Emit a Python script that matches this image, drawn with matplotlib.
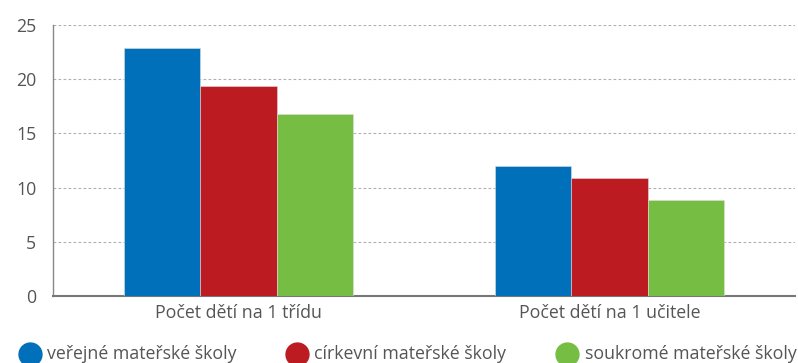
import matplotlib
matplotlib.use("Agg")
import numpy as np
import matplotlib.pyplot as plt
from matplotlib.lines import Line2D

plt.rcParams['font.family'] = ['Open Sans', 'DejaVu Sans']

# data
categories = ["Počet dětí na 1 třídu", "Počet dětí na 1 učitele"]
series = ["veřejné mateřské školy", "církevní mateřské školy", "soukromé mateřské školy"]
verejne = [22.9, 12.0]
cirkevni = [19.4, 10.9]
soukrome = [16.8, 8.9]
values = [verejne, cirkevni, soukrome]
colors = ["#0070ba", "#bc1b21", "#76be43"]
yticks = [0, 5, 10, 15, 20, 25]

W, H = 798, 363
fig = plt.figure(figsize=(W / 100, H / 100), dpi=100)
ax = fig.add_axes([0.0664, 0.1846, 0.9296, 0.7464])

x = np.arange(len(categories))
w = 0.206
for i, (vals, c) in enumerate(zip(values, colors)):
    ax.bar(x + (i - 1) * w, vals, w, color=c, edgecolor="#dddddd",
           linewidth=0.4, zorder=3, label=series[i])

ax.set_xlim(-0.5, 1.5)
ax.set_ylim(0, 25)
ax.set_yticks(yticks)
ax.set_xticks(x)
ax.set_xticklabels(categories)
ax.yaxis.grid(True, linestyle=(0, (2.5, 2)), color="#b0b0b0", linewidth=0.8, zorder=0)
ax.tick_params(length=0, labelsize=12.8, colors="#555555")
ax.tick_params(axis="x", pad=6)
ax.tick_params(axis="y", pad=12)
for s in ["top", "right"]:
    ax.spines[s].set_visible(False)
ax.spines["left"].set_color("#888888")
ax.spines["left"].set_linewidth(1.0)
ax.spines["bottom"].set_color("#777777")
ax.spines["bottom"].set_linewidth(1.5)

# legend row along the bottom edge (positions in pixels)
marker_x = [30, 297, 567]
text_x = [47, 314, 585]
for mx, tx, c, name in zip(marker_x, text_x, colors, series):
    fig.add_artist(Line2D([mx / W], [1 - 354 / H], marker="o", markersize=16.5,
                          markerfacecolor=c, markeredgecolor=c,
                          transform=fig.transFigure))
    fig.text(tx / W, 1 - 359 / H, name, fontsize=12.8, color="#555555",
             ha="left", va="baseline")

fig.savefig("out.png", dpi=100)
